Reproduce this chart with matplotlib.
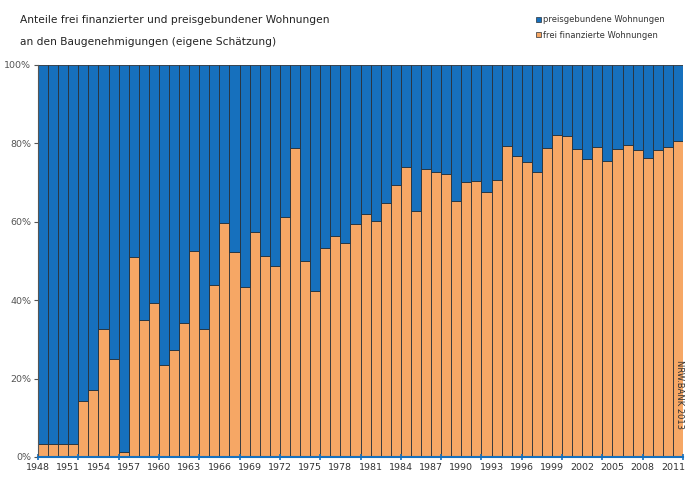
import numpy as np
import matplotlib.pyplot as plt
import matplotlib.transforms as mtrans

years = np.arange(1948, 2012)
frei = [3.3, 3.3, 3.3, 3.3, 14.4, 17.2, 32.6, 25.1, 1.3, 51.1,
        35.0, 39.3, 23.4, 27.4, 34.2, 52.6, 32.6, 43.8, 59.6, 52.3,
        43.4, 57.3, 51.4, 48.8, 61.2, 78.8, 49.9, 42.4, 53.2, 56.5,
        54.5, 59.5, 61.9, 60.3, 64.7, 69.4, 74.1, 62.8, 73.5, 72.6,
        72.1, 65.2, 70.1, 70.5, 67.7, 70.7, 79.4, 76.9, 75.2, 72.6,
        78.8, 82.2, 81.9, 78.5, 76.0, 79.0, 75.6, 78.5, 79.6, 78.2,
        76.2, 78.2, 79.0, 80.7]
preis = [100 - v for v in frei]
label_years = years[::3]

c_blue = '#1670bd'
c_orange = '#f6a765'
c_edge = '#2a3138'

plt.rcParams['font.family'] = ['Liberation Sans Narrow', 'DejaVu Sans']

fig = plt.figure(figsize=(6.85, 4.78), dpi=100)
ax = fig.add_axes([38/685, 1 - 457/478, 645/685, 392/478])

ax.bar(years, frei, width=1.0, color=c_orange, edgecolor=c_edge, linewidth=0.6)
ax.bar(years, preis, bottom=frei, width=1.0, color=c_blue, edgecolor=c_edge, linewidth=0.6)

ax.set_xlim(1947.5, 2011.5)
ax.set_ylim(0, 100)

ax.set_xticks(label_years)
ax.set_xticklabels([str(y) for y in label_years])
ax.tick_params(axis='x', which='major', length=0, labelsize=6.8, labelcolor='#333333', pad=4)
# labels sit a little left of the bar centres, as in the original
shift = mtrans.ScaledTranslation(-5/100, 0, fig.dpi_scale_trans)
for lab in ax.get_xticklabels():
    lab.set_transform(lab.get_transform() + shift)
ax.set_xticks(np.arange(1947.5, 2012, 4), minor=True)
ax.tick_params(axis='x', which='minor', length=4, width=1.2, color=c_blue, direction='inout')

ax.set_yticks(np.arange(0, 101, 20))
ax.set_yticklabels(['%d%%' % v for v in range(0, 101, 20)])
ax.tick_params(axis='y', length=3, width=0.8, color='#555555', labelsize=6.8, labelcolor='#555555', pad=2)

for s in ['top', 'right']:
    ax.spines[s].set_visible(False)
ax.spines['bottom'].set_color(c_blue)
ax.spines['bottom'].set_linewidth(1.5)
ax.spines['left'].set_color('#555555')
ax.spines['left'].set_linewidth(0.8)

fig.text(20/685, 1 - 20/478, 'Anteile frei finanzierter und preisgebundener Wohnungen',
         ha='left', va='center', fontsize=7.7, color='#222222')
fig.text(20/685, 1 - 42/478, 'an den Baugenehmigungen (eigene Schätzung)',
         ha='left', va='center', fontsize=7.7, color='#222222')

# legend
fig.patches.append(plt.Rectangle((536/685, 1 - 22/478), 5/685, 5/478, transform=fig.transFigure,
                                 facecolor=c_blue, edgecolor=c_edge, linewidth=0.5))
fig.text(543/685, 1 - 20/478, 'preisgebundene Wohnungen', fontsize=6, color='#333333', va='center')
fig.patches.append(plt.Rectangle((536/685, 1 - 37/478), 5/685, 5/478, transform=fig.transFigure,
                                 facecolor=c_orange, edgecolor=c_edge, linewidth=0.5))
fig.text(543/685, 1 - 35/478, 'frei finanzierte Wohnungen', fontsize=6, color='#333333', va='center')

fig.text(684/685, 1 - 395/478, 'NRW.BANK 2013', rotation=270, fontsize=6, color='#333333',
         ha='right', va='center')

fig.savefig('out.png', dpi=100)
